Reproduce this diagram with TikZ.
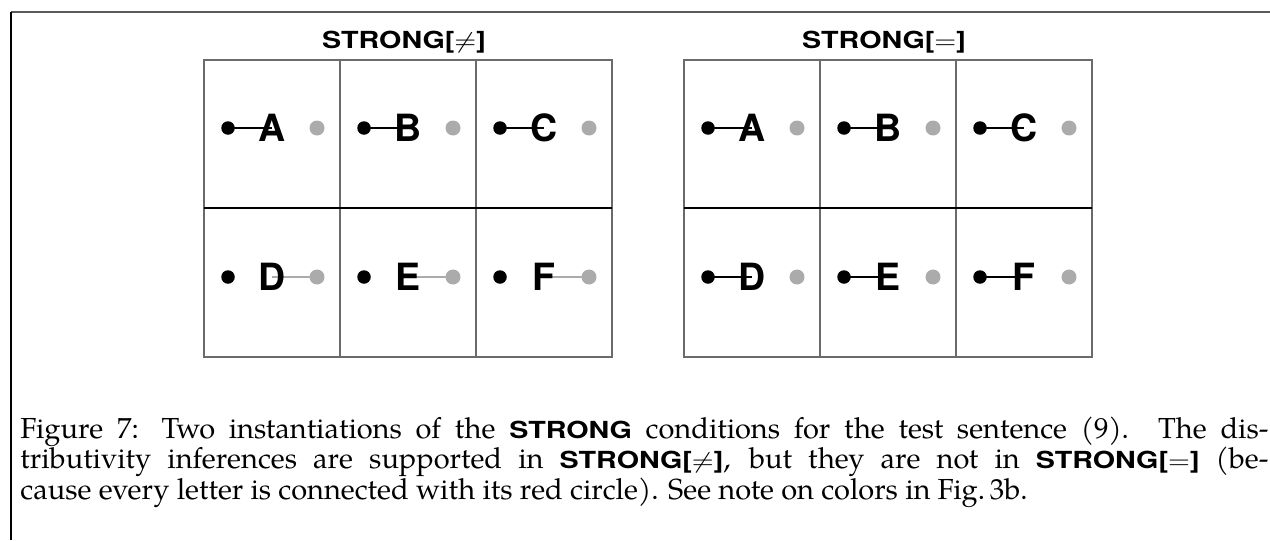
\documentclass[tikz,border=0pt]{standalone}
\usepackage{fontspec}
\usepackage{xcolor}
\usepackage{graphicx}
\usepackage{tikz}
\usetikzlibrary{backgrounds}
\setmainfont{TeX Gyre Pagella}
\setsansfont{TeX Gyre Heros}
\definecolor{dotgray}{gray}{0.67}
\definecolor{gridgray}{gray}{0.42}
\newcommand{\strg}[1]{\scalebox{1.22}[1]{\fontsize{9.4}{12}\selectfont\sffamily\bfseries #1}}
\newcommand{\ttl}[1]{\scalebox{1.22}[1]{#1}}

\begin{document}
\begin{tikzpicture}[x=0.4pt, y=-0.4pt,
        every node/.style={inner sep=0pt},
        dot/.style={circle, fill=black, minimum size=5.4pt},
        gdot/.style={dot, fill=dotgray, minimum size=6pt},
        letter/.style={font=\fontsize{15}{15}\selectfont\sffamily\bfseries},
        title/.style={font=\fontsize{9.4}{11}\selectfont\sffamily\bfseries, anchor=base},
        link/.style={line width=0.9pt},
        glink/.style={line width=1.1pt, draw=dotgray},
        cell/.style={draw=gridgray, line width=0.5pt}]
        \useasboundingbox (0,0) rectangle (1270,540);
        % Frame
        \draw[line width=0.6pt, gray!70!black] (11,12) -- (1270,12);
        \draw[line width=0.6pt] (11,12) -- (11,540);
        % Grids
        \draw[cell] (204,60) rectangle (612,357);
        \draw[cell] (340,60) -- (340,357) (476,60) -- (476,357);
        \draw[cell, draw=black] (204,208) -- (612,208);
        \draw[cell] (684,60) rectangle (1092,357);
        \draw[cell] (820,60) -- (820,357) (956,60) -- (956,357);
        \draw[cell, draw=black] (684,208) -- (1092,208);
        % Titles
        \node[title] (tneq) at (404,48) {\ttl{STRONG[$\neq$]}};
        \node[title] (teq) at (884,48) {\ttl{STRONG[$=$]}};
        % Nodes, STRONG[neq]
        \node[dot] (nbA) at (228,128) {};
        \node[letter] (nA) at (272,128) {A};
        \node[gdot] (ngA) at (317,128) {};
        \node[dot] (nbB) at (364,128) {};
        \node[letter] (nB) at (408,128) {B};
        \node[gdot] (ngB) at (453,128) {};
        \node[dot] (nbC) at (500,128) {};
        \node[letter] (nC) at (544,128) {C};
        \node[gdot] (ngC) at (589,128) {};
        \node[dot] (nbD) at (228,277) {};
        \node[letter] (nD) at (272,277) {D};
        \node[gdot] (ngD) at (317,277) {};
        \node[dot] (nbE) at (364,277) {};
        \node[letter] (nE) at (408,277) {E};
        \node[gdot] (ngE) at (453,277) {};
        \node[dot] (nbF) at (500,277) {};
        \node[letter] (nF) at (544,277) {F};
        \node[gdot] (ngF) at (589,277) {};
        % Nodes, STRONG[=]
        \node[dot] (ebA) at (708,128) {};
        \node[letter] (eA) at (752,128) {A};
        \node[gdot] (egA) at (797,128) {};
        \node[dot] (ebB) at (844,128) {};
        \node[letter] (eB) at (888,128) {B};
        \node[gdot] (egB) at (933,128) {};
        \node[dot] (ebC) at (980,128) {};
        \node[letter] (eC) at (1024,128) {C};
        \node[gdot] (egC) at (1069,128) {};
        \node[dot] (ebD) at (708,277) {};
        \node[letter] (eD) at (752,277) {D};
        \node[gdot] (egD) at (797,277) {};
        \node[dot] (ebE) at (844,277) {};
        \node[letter] (eE) at (888,277) {E};
        \node[gdot] (egE) at (933,277) {};
        \node[dot] (ebF) at (980,277) {};
        \node[letter] (eF) at (1024,277) {F};
        \node[gdot] (egF) at (1069,277) {};
        % Edges
        \begin{scope}[on background layer]
            \draw[link] (nbA.center) -- (nA.center);
            \draw[link] (nbB.center) -- (nB.center);
            \draw[link] (nbC.center) -- (nC.center);
            \draw[glink] (nD.center) -- (ngD.center);
            \draw[glink] (nE.center) -- (ngE.center);
            \draw[glink] (nF.center) -- (ngF.center);
            \draw[link] (ebA.center) -- (eA.center);
            \draw[link] (ebB.center) -- (eB.center);
            \draw[link] (ebC.center) -- (eC.center);
            \draw[link] (ebD.center) -- (eD.center);
            \draw[link] (ebE.center) -- (eE.center);
            \draw[link] (ebF.center) -- (eF.center);
        \end{scope}
        % Caption
        \node[anchor=north west, text width=499.2pt, align=justify,
              font=\fontsize{11.6}{12.3}\selectfont] (cap) at (20,416)
            {Figure 7: Two instantiations of the \strg{STRONG} conditions for the test sentence (9). The dis-\linebreak
             tributivity inferences are supported in \strg{STRONG[$\neq$]}, but they are not in \strg{STRONG[$=$]} (be-\linebreak
             cause every letter is connected with its red circle). See note on colors in Fig.\,3b.};
    \end{tikzpicture}
\end{document}
